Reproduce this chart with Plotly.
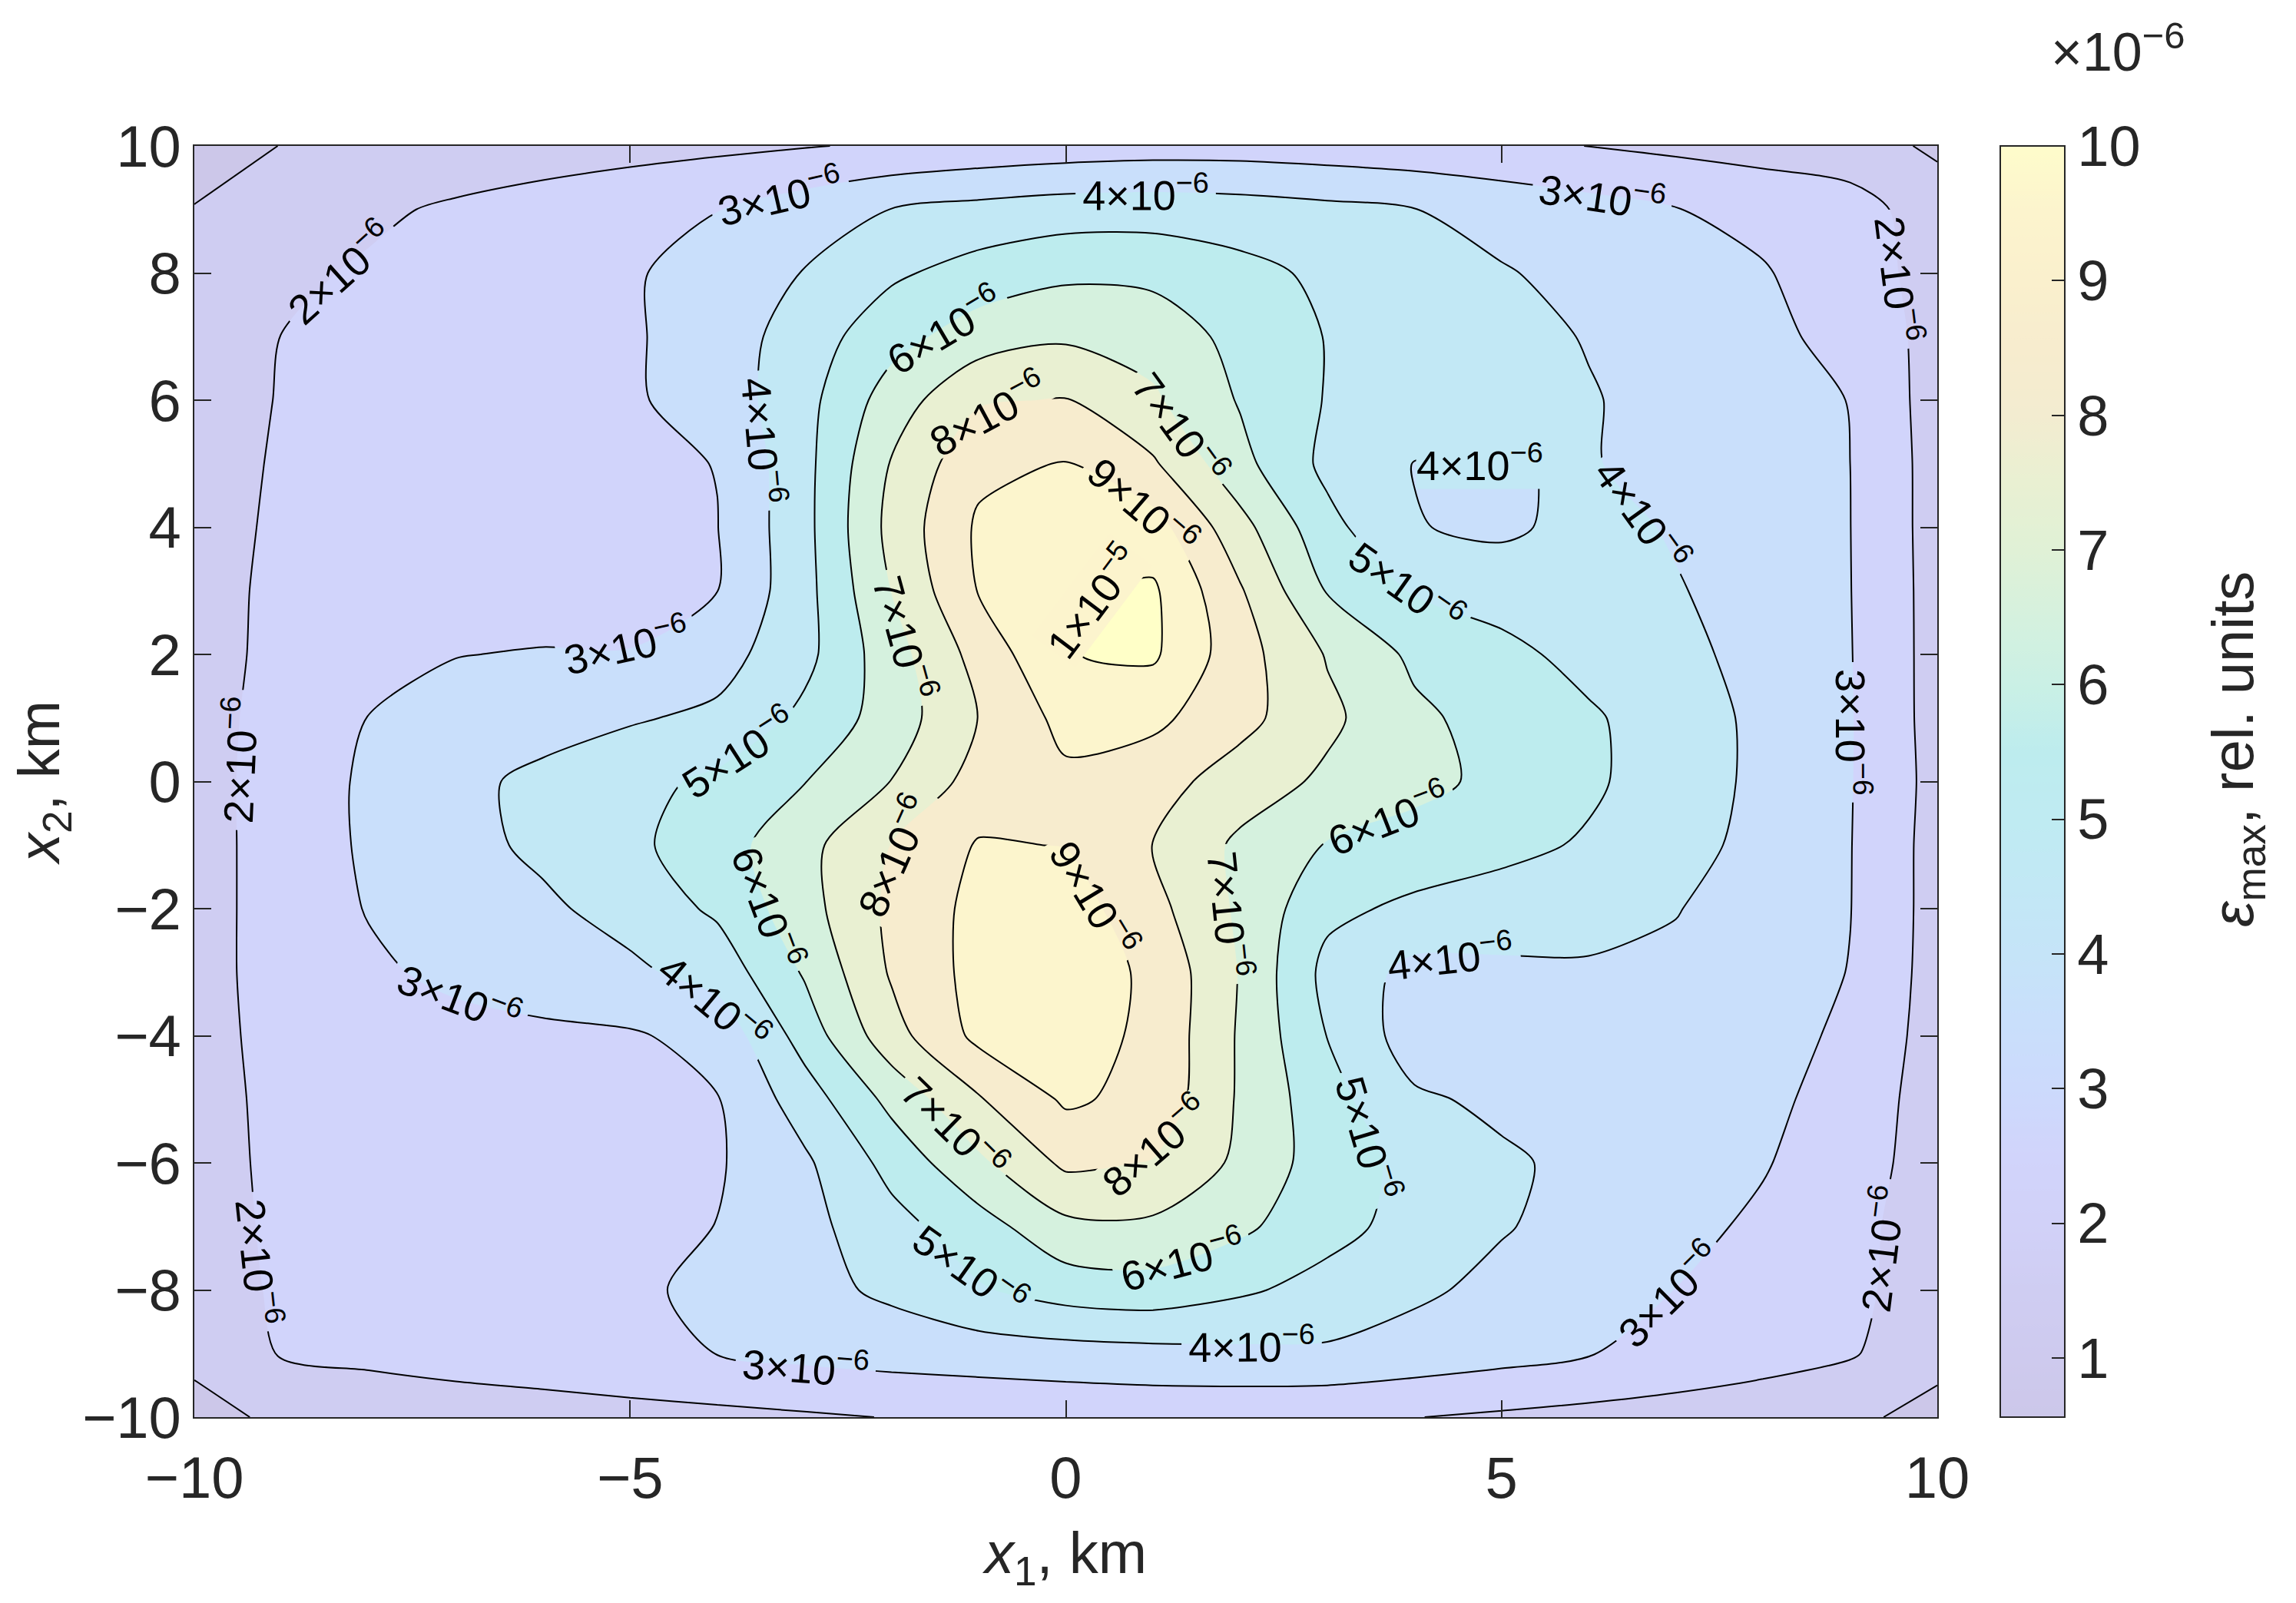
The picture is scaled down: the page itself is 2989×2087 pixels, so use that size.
import plotly.graph_objects as go

# ---------------- data (eps_max in units of 1e-6, rel. units) ----------------
x_km = list(range(-10, 11))          # x1, km (grid columns)
y_km = list(range(-10, 11))          # x2, km (grid rows, bottom to top)

eps_y_p10 = [0.56, 1.02, 1.18, 1.34, 1.50, 1.65, 1.80, 1.95, 2.12, 2.30, 2.45, 2.55, 2.55, 2.45, 2.33, 2.18, 1.99, 1.79, 1.59, 1.39, 0.85]
eps_y_p09 = [1.04, 1.43, 1.82, 2.15, 2.43, 2.70, 2.98, 3.48, 4.02, 4.30, 4.50, 4.55, 4.45, 4.25, 4.02, 3.67, 3.36, 3.03, 2.74, 2.45, 1.45]
eps_y_p08 = [1.45, 1.80, 2.12, 2.38, 2.64, 2.90, 3.39, 4.04, 4.84, 5.40, 5.80, 5.75, 5.30, 4.80, 4.43, 4.07, 3.73, 3.40, 3.07, 2.50, 1.60]
eps_y_p07 = [1.50, 2.01, 2.23, 2.45, 2.67, 2.89, 3.45, 4.49, 5.63, 6.50, 6.85, 6.60, 5.69, 4.96, 4.62, 4.29, 3.95, 3.60, 3.25, 2.68, 1.65]
eps_y_p06 = [1.55, 2.05, 2.24, 2.45, 2.66, 2.88, 3.42, 4.66, 6.48, 7.90, 8.05, 7.15, 5.92, 4.94, 4.65, 4.35, 4.06, 3.71, 3.35, 2.98, 1.55]
eps_y_p05 = [1.60, 2.10, 2.23, 2.43, 2.62, 2.81, 3.02, 4.69, 7.07, 8.75, 9.05, 8.13, 6.30, 4.75, 3.97, 3.97, 4.05, 3.75, 3.37, 3.00, 1.60]
eps_y_p04 = [1.60, 2.16, 2.24, 2.42, 2.61, 2.79, 2.98, 4.69, 7.31, 9.15, 9.60, 9.42, 7.35, 5.30, 4.05, 3.80, 4.35, 3.90, 3.50, 3.01, 1.60]
eps_y_p03 = [1.62, 2.22, 2.25, 2.44, 2.62, 2.81, 2.99, 4.66, 7.02, 9.05, 9.85, 10.15, 8.10, 5.94, 4.92, 4.64, 4.36, 4.07, 3.58, 3.02, 1.62]
eps_y_p02 = [1.62, 2.25, 2.57, 2.98, 3.05, 3.02, 3.60, 4.70, 6.59, 8.36, 9.97, 10.15, 8.40, 6.93, 5.80, 5.24, 4.72, 4.25, 3.69, 3.04, 1.62]
eps_y_p01 = [1.62, 2.35, 3.02, 3.30, 3.60, 3.90, 4.20, 5.24, 6.46, 8.02, 9.30, 9.23, 8.32, 7.22, 6.20, 5.61, 5.12, 4.54, 3.75, 3.06, 1.62]
eps_y_000 = [1.62, 2.41, 3.16, 3.74, 4.24, 4.68, 5.21, 5.97, 7.02, 8.40, 8.80, 8.40, 7.53, 6.81, 6.29, 5.74, 5.16, 4.49, 3.78, 3.05, 1.67]
eps_y_m01 = [1.62, 2.40, 3.15, 3.67, 4.21, 4.78, 5.56, 6.69, 8.03, 9.08, 8.97, 7.99, 6.80, 5.94, 5.60, 5.27, 4.89, 4.33, 3.72, 3.03, 1.62]
eps_y_m02 = [1.62, 2.40, 3.05, 3.43, 3.82, 4.38, 5.17, 6.61, 8.21, 9.30, 9.50, 8.32, 6.83, 5.24, 4.79, 4.54, 4.29, 4.04, 3.54, 3.02, 1.62]
eps_y_m03 = [1.62, 2.40, 2.84, 3.21, 3.51, 3.80, 4.40, 6.10, 8.11, 9.35, 9.55, 8.81, 6.94, 4.70, 3.70, 3.80, 3.90, 3.80, 3.50, 2.97, 1.60]
eps_y_m04 = [1.60, 2.35, 2.55, 2.70, 2.80, 2.90, 3.30, 5.42, 7.62, 9.25, 9.40, 8.80, 6.88, 4.98, 3.50, 3.55, 3.50, 3.40, 3.30, 2.85, 1.55]
eps_y_m05 = [1.55, 2.30, 2.45, 2.58, 2.70, 2.82, 2.96, 4.49, 6.29, 7.91, 9.15, 8.70, 6.87, 5.36, 4.15, 3.80, 3.60, 3.45, 3.25, 2.58, 1.55]
eps_y_m06 = [1.55, 2.25, 2.38, 2.50, 2.62, 2.75, 2.90, 3.83, 5.33, 6.80, 8.20, 7.95, 6.79, 5.48, 4.72, 4.15, 3.75, 3.41, 3.07, 2.44, 1.55]
eps_y_m07 = [1.50, 2.21, 2.40, 2.55, 2.70, 2.85, 3.01, 3.69, 4.65, 5.58, 6.75, 6.80, 6.20, 5.33, 4.65, 4.07, 3.66, 3.27, 2.83, 2.28, 1.50]
eps_y_m08 = [1.45, 2.15, 2.35, 2.50, 2.65, 2.85, 3.20, 3.67, 4.20, 4.90, 5.45, 5.60, 5.15, 4.66, 4.17, 3.75, 3.38, 2.99, 2.57, 2.25, 1.45]
eps_y_m09 = [1.25, 2.07, 2.25, 2.45, 2.60, 2.80, 3.01, 3.25, 3.40, 3.50, 3.60, 3.70, 3.80, 3.85, 3.60, 3.35, 3.04, 2.72, 2.40, 2.08, 1.40]
eps_y_m10 = [0.65, 1.20, 1.30, 1.42, 1.53, 1.65, 1.76, 1.88, 2.03, 2.15, 2.25, 2.30, 2.25, 2.15, 2.02, 1.85, 1.70, 1.55, 1.40, 1.25, 0.60]

VALUE_SCALE = 1e-6
contour_start, contour_step = 1, 1          # levels 1, 2, ... (units of 1e-6)
# levels above the data maximum draw nothing; the long level list only makes
# plotly space the inline labels more densely along each line
contour_end = 65
cbar_tick_values = [1, 2, 3, 4, 5, 6, 7, 8, 9, 10]
cbar_tick_labels = ["1", "2", "3", "4", "5", "6", "7", "8", "9", "10"]
cbar_min, cbar_max = 0.56, 10.0
x_tick_values = [-10, -5, 0, 5, 10]
y_tick_values = [-10, -8, -6, -4, -2, 0, 2, 4, 6, 8, 10]

# labels of the two small closed contours (too short for plotly's inline labels)
small_loop_labels = ["1×10<sup>−5</sup>", "4×10<sup>−6</sup>"]
small_loop_label_x = [0.30, 4.75]
small_loop_label_y = [2.85, 5.02]
small_loop_label_angle = [-53, 0]
small_loop_label_band = [9.5, 4.5]

rows_top_to_bottom = [eps_y_p10, eps_y_p09, eps_y_p08, eps_y_p07, eps_y_p06, eps_y_p05,
                      eps_y_p04, eps_y_p03, eps_y_p02, eps_y_p01, eps_y_000, eps_y_m01,
                      eps_y_m02, eps_y_m03, eps_y_m04, eps_y_m05, eps_y_m06, eps_y_m07,
                      eps_y_m08, eps_y_m09, eps_y_m10]
z_grid = [[v * VALUE_SCALE for v in row] for row in rows_top_to_bottom[::-1]]

# ---------------- style ----------------
FONT = "Liberation Sans, Arial, Helvetica, sans-serif"
INK = "#262626"
LABEL_SIZE = 54

# pale (washed-out parula-like) colour ramp, keyed by value in units of 1e-6
stop_values = [0.5, 1.0, 1.5, 2.0, 2.5, 3.0, 3.5, 4.0, 4.5, 5.0, 5.5,
               6.0, 6.5, 7.0, 7.5, 8.0, 8.5, 9.0, 9.5, 10.0, 10.5]
stop_colors = [(204, 199, 233), (206, 202, 238), (207, 205, 242), (209, 209, 248),
               (209, 212, 251), (204, 218, 252), (201, 223, 251), (197, 228, 248),
               (194, 232, 245), (191, 235, 242), (189, 236, 238), (202, 240, 229),
               (213, 241, 222), (224, 241, 214), (233, 240, 210), (243, 236, 208),
               (247, 236, 206), (250, 240, 205), (252, 244, 205), (254, 252, 203),
               (255, 255, 200)]


def color_at(v):
    if v <= stop_values[0]:
        c = stop_colors[0]
    elif v >= stop_values[-1]:
        c = stop_colors[-1]
    else:
        for i in range(len(stop_values) - 1):
            a, b = stop_values[i], stop_values[i + 1]
            if a <= v <= b:
                t = (v - a) / (b - a)
                c0, c1 = stop_colors[i], stop_colors[i + 1]
                c = tuple(c0[k] + t * (c1[k] - c0[k]) for k in range(3))
                break
    return "rgb(%d,%d,%d)" % tuple(int(round(ch)) for ch in c)


def build_scale(vmin, vmax, n=301):
    return [[i / (n - 1), color_at(vmin + (vmax - vmin) * i / (n - 1))] for i in range(n)]


# contour 'fill' maps the colorscale onto [start - step/2, end + step/2]
contour_scale = build_scale(contour_start - contour_step / 2, contour_end + contour_step / 2)
bar_scale = build_scale(cbar_min, cbar_max)

# figure placed inside an 8px body margin
OFF = 8
FIG_W, FIG_H = 2989 - 2 * OFF, 2087 - 2 * OFF
M_L, M_T = 253 - OFF, 190 - OFF
M_R = FIG_W - (2522 - OFF)
M_B = FIG_H - (1845 - OFF)
plot_w = FIG_W - M_L - M_R
plot_h = FIG_H - M_T - M_B


def px_to_paper_x(px):
    return (px - 253) / plot_w


def px_to_paper_y(py):
    return (1845 - py) / plot_h


fig = go.Figure()

# heatmap underneath: only supplies the smooth colour bar
fig.add_trace(go.Heatmap(
    x=x_km, y=y_km, z=z_grid,
    zmin=cbar_min * VALUE_SCALE, zmax=cbar_max * VALUE_SCALE,
    colorscale=bar_scale, hoverinfo="skip", showscale=True,
    colorbar=dict(
        x=px_to_paper_x(2604), xanchor="left", xref="paper",
        y=0.5, yanchor="middle", len=1, lenmode="fraction",
        thickness=84, thicknessmode="pixels", xpad=0, ypad=0,
        outlinewidth=2, outlinecolor=INK,
        ticks="inside", ticklen=18, tickwidth=2, tickcolor=INK,
        tickmode="array",
        tickvals=[v * VALUE_SCALE for v in cbar_tick_values],
        ticktext=cbar_tick_labels,
        tickfont=dict(family=FONT, size=74, color=INK),
    ),
))

# filled contour with labelled black lines
fig.add_trace(go.Contour(
    x=x_km, y=y_km, z=z_grid,
    colorscale=contour_scale,
    contours=dict(
        start=contour_start * VALUE_SCALE,
        end=contour_end * VALUE_SCALE,
        size=contour_step * VALUE_SCALE,
        coloring="fill", showlabels=True,
        labelfont=dict(family=FONT, size=LABEL_SIZE, color="black"),
    ),
    line=dict(color="black", width=2, smoothing=0.8),
    hoverinfo="skip",
    showscale=True,
    # bar kept off-screen: its axis only formats the contour labels as a×10^n
    colorbar=dict(
        x=-2, xanchor="left", y=0.5, len=0.02,
        thickness=1, outlinewidth=0, ticks="",
        exponentformat="power", showexponent="all",
        tickmode="array", tickvals=[-1.0], ticktext=[" "],
        tickfont=dict(size=2, color="rgba(0,0,0,0)"),
    ),
))

axis_common = dict(
    range=[-10, 10], tickmode="array", ticks="inside", ticklen=22, tickwidth=2,
    tickcolor=INK, showline=True, linewidth=2, linecolor=INK, mirror="ticks",
    showgrid=False, zeroline=False, tickfont=dict(family=FONT, size=76, color=INK),
)

annotations = [
    dict(text="×10<sup>−6</sup>", xref="paper", yref="paper",
         x=px_to_paper_x(2668), y=px_to_paper_y(63), xanchor="left", yanchor="middle",
         showarrow=False, font=dict(family=FONT, size=70, color=INK)),
    dict(text="<i>ε</i><sub>max</sub>, rel. units", xref="paper", yref="paper",
         x=px_to_paper_x(2912), y=px_to_paper_y(976), xanchor="center", yanchor="middle",
         textangle=-90, showarrow=False, font=dict(family=FONT, size=76, color=INK)),
]
for txt, lx, ly, ang, band in zip(small_loop_labels, small_loop_label_x, small_loop_label_y,
                                  small_loop_label_angle, small_loop_label_band):
    annotations.append(dict(
        text=txt, x=lx, y=ly, xref="x", yref="y", textangle=ang, showarrow=False,
        xanchor="center", yanchor="middle", bgcolor=color_at(band), borderpad=0,
        font=dict(family=FONT, size=LABEL_SIZE, color="black")))

fig.update_layout(
    width=FIG_W, height=FIG_H, autosize=False,
    margin=dict(l=M_L, r=M_R, t=M_T, b=M_B, pad=0, autoexpand=False),
    paper_bgcolor="white", plot_bgcolor="white",
    font=dict(family=FONT, size=76, color=INK),
    showlegend=False,
    xaxis=dict(axis_common, tickvals=x_tick_values, ticklabelstandoff=12,
               title=dict(text="<i>x</i><sub>1</sub>, km", standoff=30,
                          font=dict(family=FONT, size=76, color=INK))),
    yaxis=dict(axis_common, tickvals=y_tick_values,
               title=dict(text="<i>x</i><sub>2</sub>, km", standoff=20,
                          font=dict(family=FONT, size=76, color=INK))),
    annotations=annotations,
)

fig.write_html("out.html")
